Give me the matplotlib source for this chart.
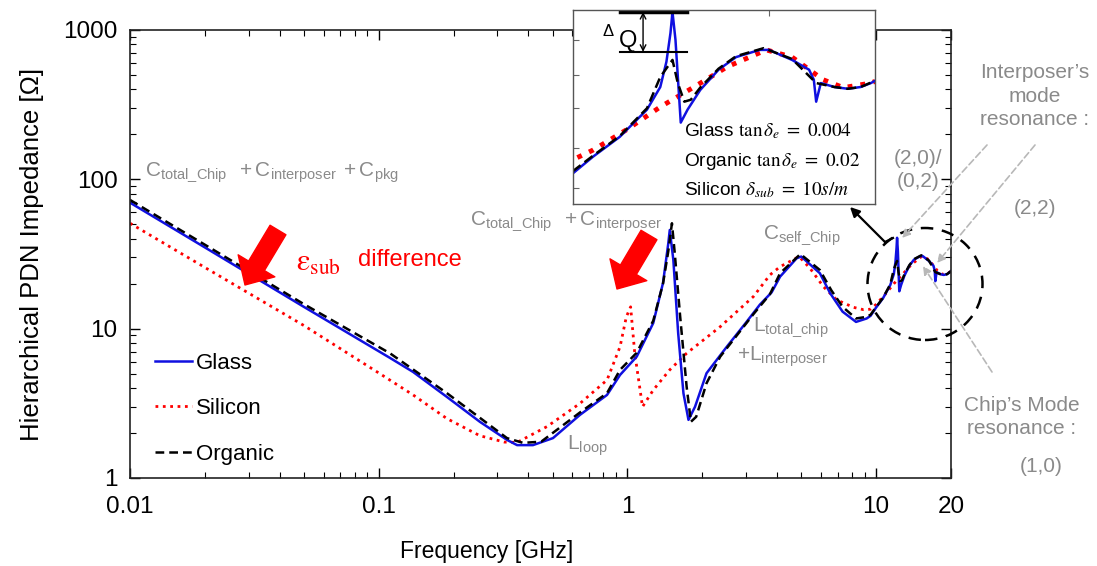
import matplotlib
matplotlib.use('Agg')
import matplotlib.pyplot as plt
from matplotlib.patches import Ellipse, FancyArrowPatch
from matplotlib.lines import Line2D

plt.rcParams['font.family'] = ['Liberation Sans', 'DejaVu Sans']
plt.rcParams['mathtext.fontset'] = 'stix'

# impedance curves of the hierarchical PDN, frequency in GHz, impedance in ohm
glass_f = [0.01, 0.02, 0.05, 0.111, 0.1375, 0.188, 0.255, 0.328, 0.36, 0.417, 0.502,
           0.645, 0.828, 0.934, 1.09, 1.27, 1.39, 1.46, 1.48, 1.53, 1.60, 1.68, 1.76,
           1.87, 2.08, 2.51, 3.0, 3.41, 3.8, 4.11, 4.79, 5.0, 5.94, 6.53, 7.33, 8.3,
           9.16, 9.5, 9.98, 10.66, 11.4, 11.78, 11.96, 12.08, 12.14, 12.23, 12.39, 12.6,
           13.0, 13.6, 14.2, 15.05, 15.4, 16.3, 17.0, 17.2, 17.3, 17.5, 18.1, 18.7,
           19.3, 19.8, 20.0]
glass_z = [69.8, 35.0, 14.0, 6.37, 5.13, 3.49, 2.38, 1.80, 1.66, 1.66, 1.85,
           2.65, 3.6, 4.9, 6.5, 10.9, 20.2, 37.3, 45.8, 28.8, 9.3, 3.69, 2.45,
           3.0, 5.03, 7.57, 11.0, 14.5, 17.5, 22.3, 29.6, 30.4, 23.5, 17.3, 13.0, 11.1,
           11.7, 12.2, 13.8, 16.0, 19.6, 23.2, 28.0, 34.7, 40.6, 33.0, 17.8, 19.6,
           22.7, 26.4, 29.0, 30.6, 30.6, 28.4, 26.4, 24.5, 20.8, 23.9, 23.2, 22.9,
           23.2, 23.9, 24.3]

organic_f = [0.01, 0.02, 0.05, 0.111, 0.188, 0.328, 0.38, 0.45, 0.645, 0.828, 0.934,
             1.09, 1.27, 1.39, 1.46, 1.51, 1.55, 1.63, 1.73, 1.80, 1.89, 2.08, 2.36,
             3.21, 3.74, 4.11, 4.96, 5.94, 6.6, 7.33, 8.3, 9.16, 9.5, 9.98, 10.66, 11.4,
             11.78, 12.14, 12.3, 12.5, 12.7, 13.0, 13.6, 14.2, 15.2, 16.3, 17.3, 18.1,
             18.7, 19.3, 20.0]
organic_z = [72.8, 36.5, 14.6, 6.84, 3.7, 1.85, 1.72, 1.75, 2.75, 3.7, 5.3,
             6.9, 11.3, 20.0, 33.0, 50.8, 32.0, 12.0, 4.09, 2.38, 2.57, 4.31, 6.49,
             12.5, 17.0, 23.5, 31.6, 24.7, 18.1, 14.0, 11.7, 12.0, 12.4, 13.9, 16.1,
             19.8, 25.0, 28.4, 23.9, 20.8, 21.1, 23.1, 26.6, 29.2, 31.0, 28.6, 23.9,
             23.2, 22.9, 23.2, 24.3]

silicon_f = [0.01, 0.02, 0.05, 0.101, 0.1375, 0.188, 0.255, 0.32, 0.36, 0.475, 0.645,
             0.828, 0.934, 0.99, 1.03, 1.07, 1.15, 1.27, 1.48, 1.73, 2.36, 3.21, 3.74,
             4.11, 4.9, 5.42, 6.14, 6.94, 8.1, 8.9, 9.5, 9.98, 10.85, 11.78, 12.8,
             13.9, 15.3, 16.3, 17.6, 18.5, 19.8, 20.0]
silicon_z = [50.8, 25.7, 10.5, 5.0, 3.6, 2.5, 1.92, 1.74, 1.73, 2.21, 3.16,
             4.53, 7.57, 12.0, 14.0, 6.87, 3.0, 3.88, 5.3, 6.84, 10.3, 16.4, 22.9,
             26.0, 30.4, 25.4, 19.1, 15.6, 13.9, 13.4, 13.5, 14.5, 16.9, 20.0, 23.2,
             27.0, 30.6, 29.0, 24.5, 23.1, 23.9, 24.2]

x_ticks = [0.01, 0.1, 1, 10, 20]
x_labels = ['0.01', '0.1', '1', '10', '20']
y_ticks = [1, 10, 100, 1000]
y_labels = ['1', '10', '100', '1000']

W, H = 1097, 566
GRAY = '#8a8a8a'
LIGHT = '#b8b8b8'
RED = '#ff0000'
BLUE = '#1010e0'

fig = plt.figure(figsize=(W / 100, H / 100), dpi=100)


def fp(x, y):
    # pixel position measured from the top-left corner -> figure fraction
    return (x / W, 1 - y / H)


ax = fig.add_axes([130 / W, 1 - 478 / H, 821 / W, 448 / H])
l_si, = ax.loglog(silicon_f, silicon_z, ':', color=RED, lw=2.0)
l_gl, = ax.loglog(glass_f, glass_z, '-', color=BLUE, lw=1.8)
l_or, = ax.loglog(organic_f, organic_z, '--', color='black', lw=1.8, dashes=(3.5, 2))
ax.set_xlim(0.01, 20)
ax.set_ylim(1, 1000)
ax.set_xticks(x_ticks, x_labels)
ax.set_yticks(y_ticks, y_labels)
ax.tick_params(which='both', direction='in', top=True, right=True, labelsize=17.5)
ax.tick_params(which='major', length=7, width=1, pad=9)
ax.tick_params(which='minor', length=4, width=0.8)
ax.tick_params(axis='x', which='major', pad=13)
for s in ax.spines.values():
    s.set_linewidth(1.2)
    s.set_color('#222222')
ax.set_xlabel('Frequency [GHz]', fontsize=16.5)
ax.set_ylabel('Hierarchical PDN Impedance [\u03a9]', fontsize=18.5)
ax.xaxis.set_label_coords((487 - 130) / 821, -(540 - 478) / 448)
ax.yaxis.set_label_coords(-(130 - 44) / 821, 0.5)

ax.legend([l_gl, l_si, l_or], ['Glass', 'Silicon', 'Organic'], frameon=False,
          loc='center left', bbox_to_anchor=(0.03, 0.155), fontsize=16,
          handlelength=1.7, handletextpad=0.15, labelspacing=1.1,
          borderpad=0, borderaxespad=0)

# zoomed view of the 10-20 GHz cavity modes
ins = fig.add_axes([573 / W, 1 - 204 / H, 302 / W, 194 / H])
ins.set_facecolor('white')
ins.loglog(silicon_f, silicon_z, ':', color=RED, lw=3.5)
ins.loglog(glass_f, glass_z, '-', color=BLUE, lw=1.8)
ins.loglog(organic_f, organic_z, '--', color='black', lw=1.8, dashes=(4, 2))
ins.set_xlim(9.5, 20)
ins.set_ylim(9.7, 41.2)
ins.set_xticks([12.1, 15.4], [])
ins.set_yticks([33.0, 25.4, 19.9, 14.7, 10.9], [])
ins.minorticks_off()
ins.tick_params(which='both', direction='in', top=True, bottom=False,
                right=False, length=4, width=0.8, colors='#666666')
for s in ins.spines.values():
    s.set_linewidth(1.0)
    s.set_color('#555555')

# delta-Q marker between the glass and organic peaks
ins.plot([0.156, 0.377], [0.99, 0.99], color='black', lw=2.5, transform=ins.transAxes)
ins.plot([0.156, 0.377], [0.784, 0.784], color='black', lw=1.5, transform=ins.transAxes)
ins.annotate('', xy=(0.232, 0.99), xytext=(0.232, 0.784), xycoords='axes fraction',
             arrowprops=dict(arrowstyle='<->', lw=1.0, color='black',
                             shrinkA=0, shrinkB=0))
fig.text(*fp(608, 32), '\u0394', fontsize=12, ha='center', va='center')
fig.text(*fp(628, 41), 'Q', fontsize=17, ha='center', va='center')

fig.text(*fp(684, 131), r'Glass $\tan\delta_e\ =\ 0.004$', fontsize=13.8, va='center')
fig.text(*fp(684, 162), r'Organic $\tan\delta_e\ =\ 0.02$', fontsize=13.8, va='center')
fig.text(*fp(684, 190), r'Silicon $\delta_{sub}\ =\ 10s/m$', fontsize=13.8, va='center')

# capacitance / inductance labels
fig.text(*fp(145, 172), r'$\mathregular{C_{total\_Chip}\ \ +C_{interposer}\ +C_{pkg}}$',
         fontsize=15, color=GRAY, va='center')
fig.text(*fp(470, 221), r'$\mathregular{C_{total\_Chip}\ \ +C_{interposer}}$',
         fontsize=15, color=GRAY, va='center')
fig.text(*fp(763, 235), r'$\mathregular{C_{self\_Chip}}$', fontsize=15, color=GRAY,
         va='center')
fig.text(*fp(753, 327), r'$\mathregular{L_{total\_chip}}$', fontsize=15, color=GRAY,
         va='center')
fig.text(*fp(737, 357), r'$\mathregular{+L_{interposer}}$', fontsize=15, color=GRAY,
         va='center')
fig.text(*fp(567, 446), r'$\mathregular{L_{loop}}$', fontsize=15, color=GRAY, va='center')

fig.text(*fp(296, 263), r'$\mathrm{\varepsilon}_{\mathrm{sub}}$', fontsize=22,
         color=RED, va='center')
fig.text(*fp(358, 260), 'difference', fontsize=17, color=RED, va='center')

# red block arrows
for tail, tip in [((278, 230), (245, 285)), ((649, 235), (617, 289))]:
    fig.add_artist(FancyArrowPatch(fp(*tail), fp(*tip), transform=fig.transFigure,
                                   arrowstyle='simple,head_width=2.2,head_length=1.15,tail_width=0.95',
                                   mutation_scale=14, color=RED, shrinkA=0, shrinkB=0))

# mode resonance circle and link to the inset
fig.add_artist(Ellipse(fp(925, 284), 115 / W, 112 / H, transform=fig.transFigure,
                       fill=False, edgecolor='black', lw=1.8, linestyle=(0, (5, 3.5))))
fig.add_artist(Line2D([885 / W, 893 / W], [1 - 242 / H, 1 - 238 / H], color='black',
                      lw=1.6, transform=fig.transFigure))
fig.add_artist(FancyArrowPatch(fp(885, 242), fp(850, 207), transform=fig.transFigure,
                               arrowstyle='-|>', mutation_scale=14, color='black',
                               lw=1.6, shrinkA=0, shrinkB=0))

for start, end in [((987, 145), (902, 238)), ((1035, 145), (937, 263)),
                   ((992, 372), (923, 266))]:
    fig.add_artist(FancyArrowPatch(fp(*start), fp(*end), transform=fig.transFigure,
                                   arrowstyle='-|>', mutation_scale=12, color=LIGHT,
                                   lw=1.2, linestyle=(0, (4, 2)), shrinkA=0, shrinkB=0))

fig.text(*fp(1035, 96), "Interposer\u2019s\nmode\nresonance :", fontsize=15,
         color=GRAY, ha='center', va='center', linespacing=1.3)
fig.text(*fp(918, 170), "(2,0)/\n(0,2)", fontsize=15, color=GRAY, ha='center',
         va='center', linespacing=1.25)
fig.text(*fp(1035, 209), "(2,2)", fontsize=15, color=GRAY, ha='center', va='center')
fig.text(*fp(1022, 417), "Chip\u2019s Mode\nresonance :", fontsize=15, color=GRAY,
         ha='center', va='center', linespacing=1.3)
fig.text(*fp(1041, 467), "(1,0)", fontsize=15, color=GRAY, ha='center', va='center')

fig.savefig('out.png', dpi=100)
